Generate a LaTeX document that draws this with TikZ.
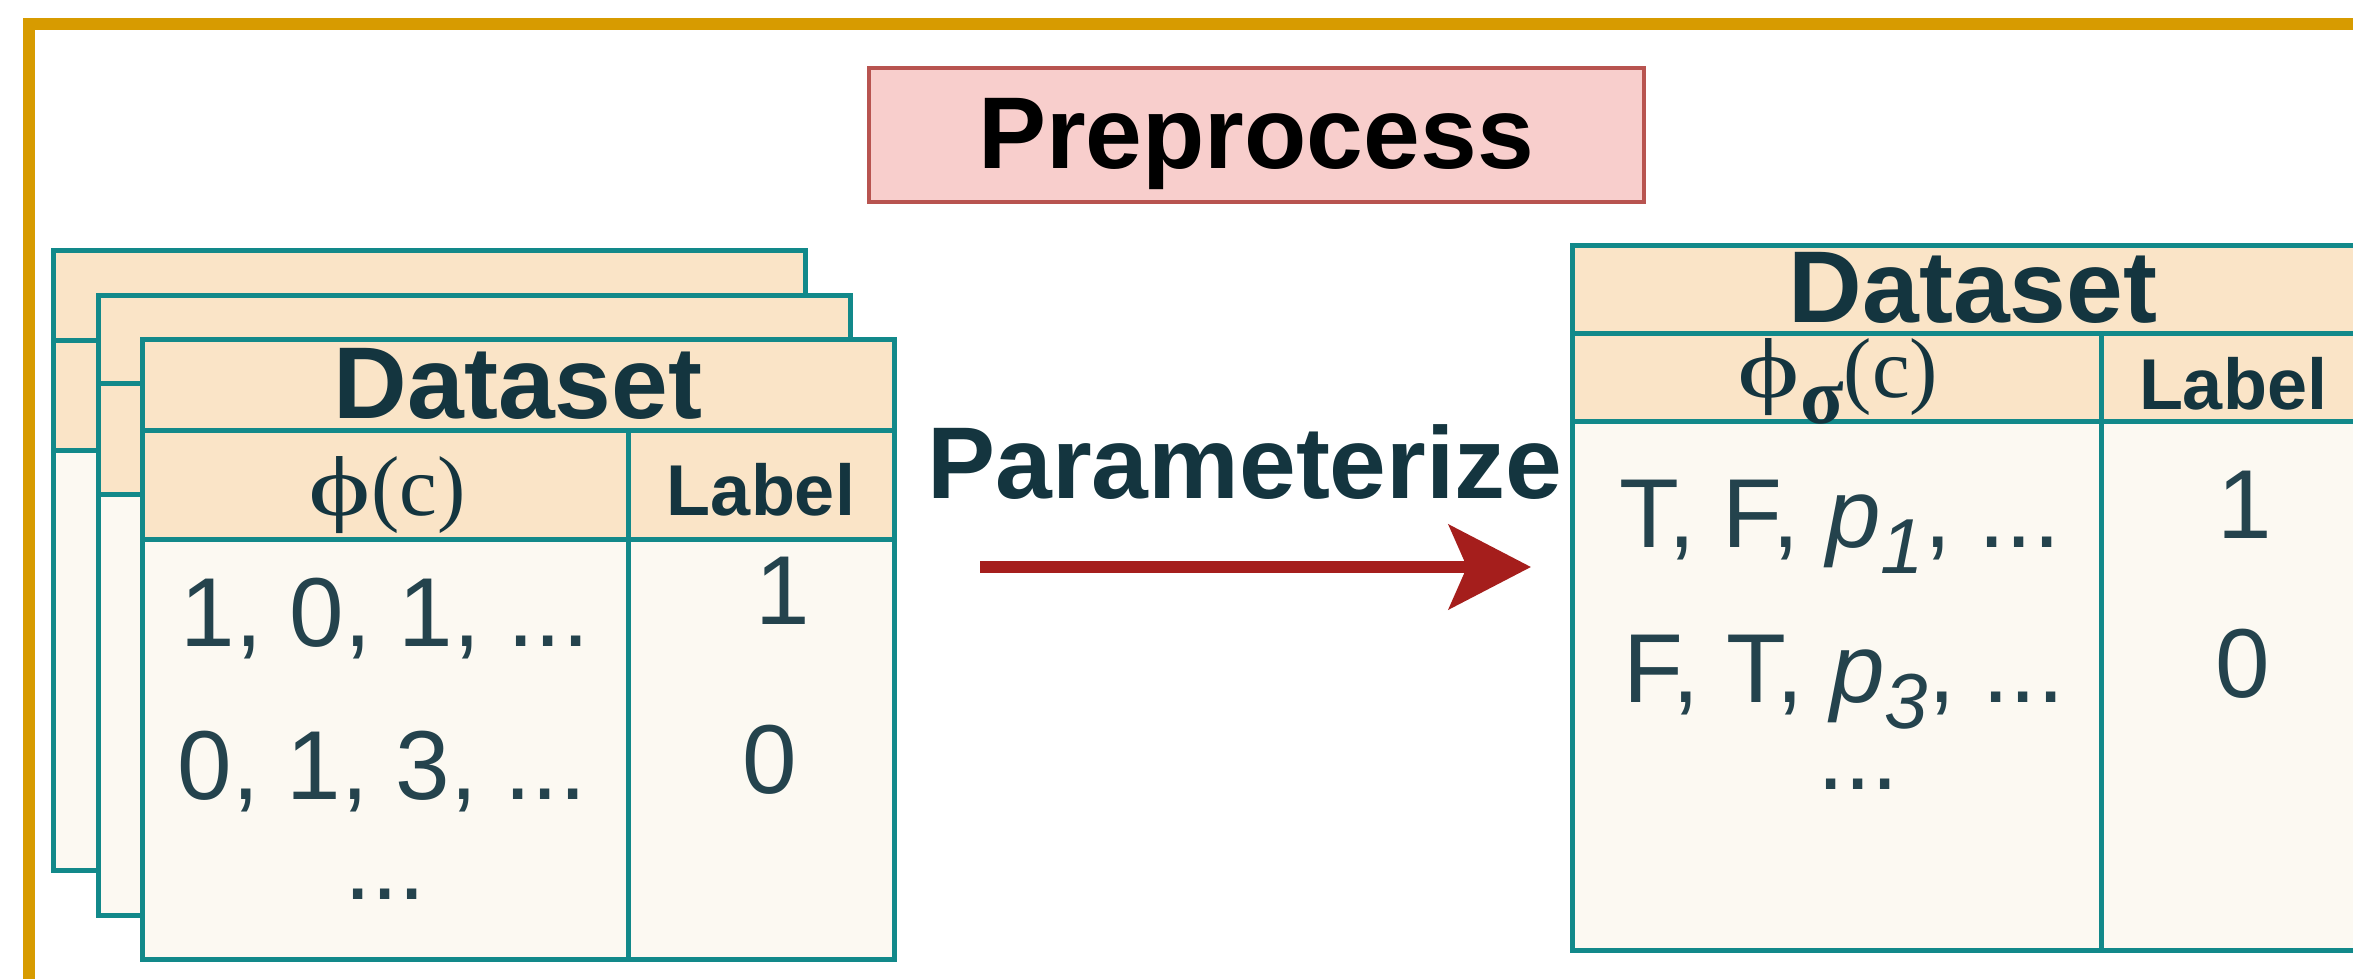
\documentclass[tikz,border=0pt]{standalone}
\usepackage{fontspec}
\setmainfont{Liberation Sans}
\newfontfamily\phifont{Liberation Serif}
\usetikzlibrary{arrows.meta}
\definecolor{borderorange}{HTML}{D79B00}
\definecolor{teal}{HTML}{12898A}
\definecolor{hdrfill}{HTML}{FAE4C7}
\definecolor{bodyfill}{HTML}{FCF9F2}
\definecolor{txt}{HTML}{14353F}
\definecolor{rowtxt}{HTML}{24434D}
\definecolor{ppfill}{HTML}{F8CECC}
\definecolor{ppdraw}{HTML}{B85450}
\definecolor{arrowred}{HTML}{A51E1C}
\newcommand\DrawTable[8]{% x y w h h1 h2 cw name
  \fill[hdrfill] (#1,#2) rectangle ({#1+#3},{#2+#5+#6});
  \fill[bodyfill] (#1,{#2+#5+#6}) rectangle ({#1+#3},{#2+#4});
  \draw[tline] (#1,#2) rectangle ({#1+#3},{#2+#4});
  \draw[tline] (#1,{#2+#5}) -- ({#1+#3},{#2+#5});
  \draw[tline] (#1,{#2+#5+#6}) -- ({#1+#3},{#2+#5+#6});
  \draw[tline] ({#1+#7},{#2+#5}) -- ({#1+#7},{#2+#4});
  \coordinate (#8) at (#1,#2);
}
\newcommand\widephi{\scalebox{1.4}[1]{ϕ}}
\tikzset{
  tline/.style={draw=teal, line width=5pt},
  outer/.style={draw=borderorange, line width=12pt},
  ppbox/.style={draw=ppdraw, fill=ppfill, line width=4pt},
  titletext/.style={anchor=base, text=txt, inner sep=0pt, font=\fontsize{102}{110}\selectfont\bfseries},
  labeltext/.style={anchor=base, text=txt, inner sep=0pt, font=\fontsize{72}{80}\selectfont\bfseries},
  rowtext/.style={anchor=base, text=rowtxt, inner sep=0pt, font=\fontsize{98}{110}\selectfont},
  phitext/.style={anchor=base, text=txt, inner sep=0pt, font=\fontsize{85}{90}\phifont},
  bigtext/.style={anchor=base, inner sep=0pt, font=\fontsize{102}{110}\selectfont\bfseries},
  convarrow/.style={draw=arrowred, line width=12pt, -{Stealth[length=82pt,width=84pt,inset=18pt]}},
}
\begin{document}
\begin{tikzpicture}[x=1pt,y=-1pt]
\useasboundingbox (0,0) rectangle (2353,979);
\begin{scope}
\clip (0,0) rectangle (2353,979);
\fill[white] (0,0) rectangle (2353,979);
\draw[outer] (29,24) rectangle (2420,1060);

% Preprocess box
\draw[ppbox] (869,68) rectangle (1644,202);
\node[bigtext, text=black] (pp) at (1256,168) {Preprocess};

% stacked tables (left)
\DrawTable{53}{250}{752}{620}{90}{110}{486}{tA}
\DrawTable{98}{295}{752}{620}{88}{111}{486}{tB}
\DrawTable{142}{339}{752}{620}{91}{109}{486}{tC}

\node[titletext] (dsL) at (518,418) {Dataset};
\node[phitext] (phiL) at (387,515) {\widephi(c)};
\node[labeltext] (labL) at (761,515) {Label};
\node[rowtext] (r1L) at (385,646) {1, 0, 1, ...};
\node[rowtext] (r2L) at (382,799) {0, 1, 3, ...};
\node[rowtext] (r3L) at (385,899) {...};
\node[rowtext] (v1L) at (783,624) {1};
\node[rowtext] (v2L) at (770,793) {0};

% right table
\DrawTable{1572}{245}{800}{705}{88}{88}{529}{tR}
\node[titletext] (dsR) at (1973,322) {Dataset};
\node[phitext] (phiR) at (1838,397) {\widephi\raisebox{-26pt}{\fontsize{80}{80}\selectfont\bfseries σ}(c)};
\node[labeltext] (labR) at (2233,409) {Label};
\node[rowtext] (r1R) at (1840,547) {T, F, \textit{p}\raisebox{-26pt}{\fontsize{78}{80}\selectfont\itshape 1}, ...};
\node[rowtext] (r2R) at (1844,702) {F, T, \textit{p}\raisebox{-26pt}{\fontsize{78}{80}\selectfont\itshape 3}, ...};
\node[rowtext] (r3R) at (1858,789) {...};
\node[rowtext] (v1R) at (2245,538) {1};
\node[rowtext] (v2R) at (2243,697) {0};

% parameterize arrow
\node[bigtext, text=txt] (param) at (1245,498) {Parameterize};
\coordinate (arS) at (980,567);
\coordinate (arE) at (1531,567);
\draw[convarrow] (arS) -- (arE);
\end{scope}
\end{tikzpicture}
\end{document}
